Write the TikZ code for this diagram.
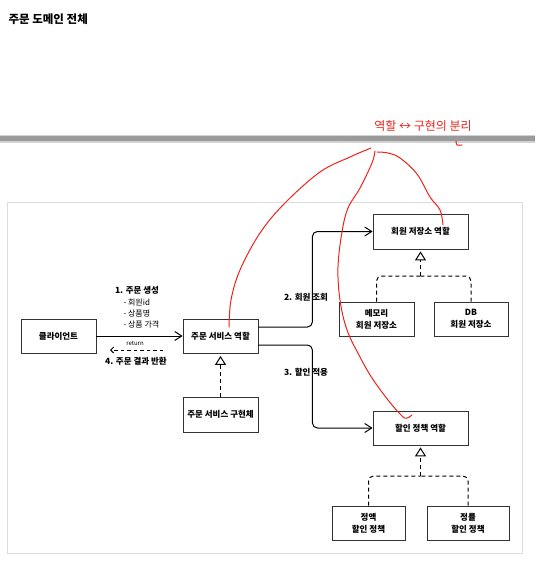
\documentclass[tikz,border=0pt]{standalone}
\usepackage{fontspec}
\setmainfont{Noto Sans CJK KR}
\usepackage{xcolor}
\usepackage{tikz}
\usetikzlibrary{positioning,calc,arrows.meta}
\definecolor{PenRed}{RGB}{236,36,28}
\definecolor{FrameGray}{RGB}{221,221,221}
\definecolor{BarGray}{RGB}{154,154,154}
\tikzset{
    rolebox/.style={rectangle, draw=black!80, line width=0.8pt, fill=white, minimum width=75pt, minimum height=34pt, inner sep=2pt, align=center, font=\fontsize{8.5}{12}\selectfont\bfseries},
    call_arrow/.style={draw=black, line width=1pt, -{Straight Barb[length=7pt,width=9pt]}},
    impl_line/.style={draw=black, line width=1pt, dash pattern=on 4pt off 3pt}
}

\begin{document}
\begin{tikzpicture}[
        x=1pt, y=-1pt,
        % --- STYLE ---
        impl_arrow/.style={
            impl_line,
            -{Triangle[open, length=9pt, width=11pt]}
        },
        return_arrow/.style={
            draw=black,
            line width=0.9pt,
            dash pattern=on 3.5pt off 3pt,
            -{Straight Barb[length=3pt,width=6pt]}
        },
        step_text/.style={
            font=\fontsize{8.5}{10}\selectfont\bfseries
        },
        item_text/.style={
            font=\fontsize{8}{10.5}\selectfont,
            anchor=west
        },
        pen/.style={
            draw=PenRed,
            line width=1pt,
            line cap=round
        }
    ]
        \useasboundingbox (0,0) rectangle (535,564);

        % --- TITLE + BAR ---
        \node[anchor=west, font=\fontsize{11.5}{14}\selectfont\bfseries] (title) at (5,19) {주문 도메인 전체};
        \fill[BarGray!45] (0,135) rectangle (535,143);
        \fill[BarGray] (0,136.5) rectangle (535,141.5);
        \draw[FrameGray, line width=1pt] (7,202) rectangle (522,553);

        % --- BOXES ---
        \node[rolebox] (client) at (58.5,336) {클라이언트};
        \node[rolebox] (osr) at (220.5,336) {주문 서비스 역할};
        \node[rolebox, minimum height=35pt] (osi) at (220.5,414.5) {주문 서비스 구현체};
        \node[rolebox, minimum width=95pt, minimum height=35pt] (mrr) at (420.5,231.5) {회원 저장소 역할};
        \node[rolebox] (mem) at (376.5,319) {메모리\\회원 저장소};
        \node[rolebox, minimum width=74pt] (db) at (471,319) {DB\\회원 저장소};
        \node[rolebox, minimum width=95pt] (dpr) at (420.5,428) {할인 정책 역할};
        \node[rolebox, minimum width=73pt] (fix) at (368.5,523) {정액\\할인 정책};
        \node[rolebox, minimum width=82pt] (rate) at (468,523) {정률\\할인 정책};

        % --- CALLS ---
        \draw[call_arrow] (client) -- (osr);
        \coordinate (ret_from) at (163,350);
        \coordinate (ret_to) at (110,350);
        \draw[return_arrow] (ret_from) -- (ret_to);
        \draw[call_arrow, rounded corners=5pt] ($(osr.east)+(0,-9)$) -- ++(54,0) |- (mrr.west);
        \draw[call_arrow, rounded corners=5pt] ($(osr.east)+(0,9)$) -- ++(54,0) |- (dpr.west);

        % --- IMPLEMENTS ---
        \draw[impl_arrow] (osi.north) -- ($(osr.south)+(0,2.5)$);

        \coordinate (mem_join) at (420.5,276);
        \draw[impl_line, rounded corners=5pt] (mem.north) |- (mem_join);
        \draw[impl_line, rounded corners=5pt] (db.north) |- (mem_join);
        \draw[impl_arrow] (mem_join) -- ($(mrr.south)+(0,2)$);

        \coordinate (dc_join) at (420.5,476);
        \draw[impl_line, rounded corners=5pt] (fix.north) |- (dc_join);
        \draw[impl_line, rounded corners=5pt] (rate.north) |- (dc_join);
        \draw[impl_arrow] (dc_join) -- ($(dpr.south)+(0,2)$);

        % --- LABELS ---
        \node[step_text] (s1) at (137,290) {1. 주문 생성};
        \node[item_text] (i1) at (120,303) {- 회원id};
        \node[item_text] (i2) at (120,313.5) {- 상품명};
        \node[item_text] (i3) at (120,324) {- 상품 가격};
        \node[font=\fontsize{6}{7}\selectfont] (ret) at (135,343) {return};
        \node[step_text] (s4) at (136,361) {4. 주문 결과 반환};
        \node[step_text] (s2) at (306,297) {2. 회원 조회};
        \node[step_text] (s3) at (306,372) {3. 할인 적용};

        % --- RED NOTES ---
        \node[text=PenRed, font=\fontsize{12}{13}\selectfont] (note) at (423,126) {역할 ↔ 구현의 분리};
        \draw[pen] plot[smooth, tension=0.6] coordinates {(229,327) (231,300) (240,270) (260,233) (285,203) (320,172) (350,157) (371,148)};
        \draw[pen] plot[smooth, tension=0.6] coordinates {(375,151) (372,163) (360,188) (348,208) (342,232) (338,267) (340,300) (347,330) (360,357) (372,378) (388,400) (402,416) (407,418) (412,415)};
        \draw[pen] plot[smooth, tension=0.6] coordinates {(377,152) (388,153) (400,158) (417,174) (430,197) (440,210) (443,225)};
        \draw[pen] plot[smooth, tension=0.6] coordinates {(456,141) (457,145) (462,145)};

    \end{tikzpicture}
\end{document}
